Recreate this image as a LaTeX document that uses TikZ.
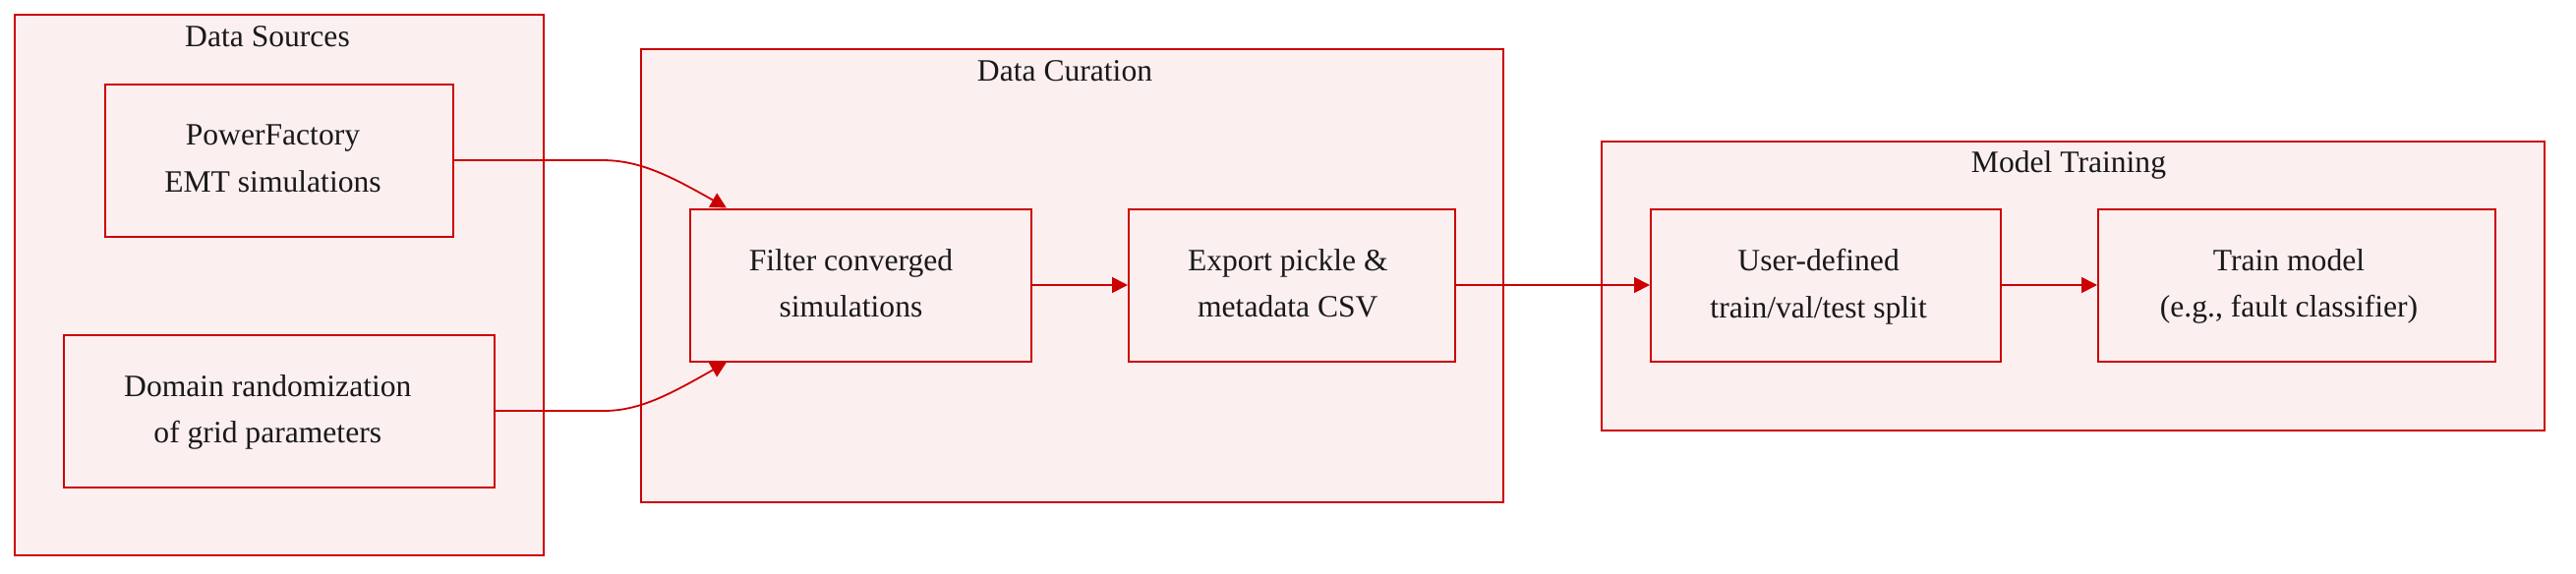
\documentclass[tikz,border=0pt]{standalone}
\usepackage{fontspec}
\setmainfont{Liberation Serif}
\usetikzlibrary{arrows.meta,calc}
\definecolor{edgered}{RGB}{204,0,0}
\definecolor{boxfill}{RGB}{252,239,240}
\definecolor{txt}{RGB}{25,25,25}
\begin{document}
\begin{tikzpicture}[x=0.5pt,y=-0.5pt,
  cluster/.style={draw=edgered, fill=boxfill, line width=1pt},
  proc/.style={draw=edgered, fill=boxfill, line width=1pt, inner sep=0pt, minimum height=77.5pt},
  lbl/.style={align=center, text=txt, font=\fontsize{15.8pt}{23.7pt}\selectfont, inner sep=0pt,
    execute at begin node=\strut, execute at end node=\strut, yshift=-2.7pt},
  title/.style={text=txt, font=\fontsize{15.8pt}{23.7pt}\selectfont, inner sep=0pt,
    execute at begin node=\strut},
  link/.style={draw=edgered, line width=0.9pt, -{Triangle[length=8pt,width=8pt]}}]
\useasboundingbox (0,0) rectangle (2620,584);
% clusters
\draw[cluster] (15,15) rectangle (553,565);
\draw[cluster] (652,50) rectangle (1529,511);
\draw[cluster] (1629,144) rectangle (2588,438);
\node[title] (tds) at (272,38) {Data Sources};
\node[title] (tdc) at (1083,73) {Data Curation};
\node[title] (tmt) at (2104,166) {Model Training};
% nodes
\node[proc, minimum width=177pt, label={[lbl, xshift=-3.25pt]center:{PowerFactory\\EMT simulations}}] (pf) at (284,163) {};
\node[proc, minimum width=219pt, label={[lbl, xshift=-5.85pt]center:{Domain randomization\\of grid parameters}}] (dr) at (284,418) {};
\node[proc, minimum width=173.5pt, label={[lbl, xshift=-5pt]center:{Filter converged\\simulations}}] (filter) at (875.5,290) {};
\node[proc, minimum width=166pt, label={[lbl, xshift=-2.1pt]center:{Export pickle \&\\metadata CSV}}] (export) at (1314,290) {};
\node[proc, minimum width=178pt, label={[lbl, xshift=-3.7pt]center:{User-defined\\train/val/test split}}] (split) at (1857,290) {};
\node[proc, minimum width=202pt, label={[lbl, xshift=-4pt]center:{Train model\\(e.g., fault classifier)}}] (train) at (2336,290) {};
% edges
\coordinate (b1) at (612,163);
\coordinate (b2) at (614,418);
\draw[link] (pf.east) -- (b1) .. controls (650,163) and (680,178) .. ($(filter.north west)+(38,0)$);
\draw[link] (dr.east) -- (b2) .. controls (650,418) and (680,402) .. ($(filter.south west)+(38,0)$);
\draw[link] (filter.east) -- (export.west);
\draw[link] (export.east) -- (split.west);
\draw[link] (split.east) -- (train.west);
\end{tikzpicture}
\end{document}
